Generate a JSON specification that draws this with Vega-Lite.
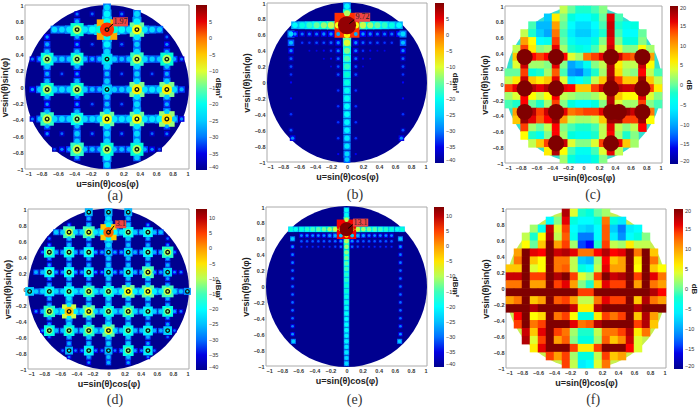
{"$schema":"https://vega.github.io/schema/vega-lite/v6.json","padding":0,"background":"white","bounds":"flush","columns":3,"spacing":0,
"resolve":{"scale":{"color":"independent","size":"independent"},"legend":{"color":"independent"}},
"config":{"view":{"stroke":null},"point":{"opacity":1},"axis":{"grid":false,"ticks":false,"domain":false,"labelFontSize":5.5,"labelFont":"Liberation Sans","labelFontWeight":"bold","labelColor":"#333","labelPadding":2,"labelOverlap":false,"titleFont":"Liberation Sans","titleFontSize":9,"titleFontWeight":"bold","titleColor":"#222","titlePadding":3,"format":".1~f"},"legend":{"padding":0,"gradientStrokeWidth":0,"labelFontSize":5.5,"labelFont":"Liberation Sans","labelColor":"#333","labelOverlap":false,"labelOffset":2,"titleFont":"Liberation Sans","titleFontSize":8,"titleFontWeight":"bold","titleOrient":"right","titleAngle":90,"titlePadding":-4,"titleColor":"#222","direction":"vertical"}},
"datasets":{
"a":[
{"u":-0.64,"v":0.7,"z":-24},{"u":-0.55,"v":0.7,"z":-24},{"u":-0.46,"v":0.7,"z":-23},{"u":-0.27,"v":0.7,"z":-23},{"u":-0.18,"v":0.7,"z":-21},{"u":-0.09,"v":0.7,"z":-18},{"u":0.09,"v":0.7,"z":-18},{"u":0.18,"v":0.7,"z":-21},{"u":0.27,"v":0.7,"z":-23},{"u":0.46,"v":0.7,"z":-23},{"u":0.55,"v":0.7,"z":-24},{"u":0.64,"v":0.7,"z":-25},
{"u":-0.91,"v":0.34,"z":-30},{"u":-0.82,"v":0.34,"z":-27},{"u":-0.64,"v":0.34,"z":-25},{"u":-0.55,"v":0.34,"z":-25},{"u":-0.46,"v":0.34,"z":-25},{"u":-0.27,"v":0.34,"z":-26},{"u":-0.18,"v":0.34,"z":-27},{"u":-0.09,"v":0.34,"z":-26},{"u":0.09,"v":0.34,"z":-25},{"u":0.18,"v":0.34,"z":-26},{"u":0.27,"v":0.34,"z":-25},{"u":0.46,"v":0.34,"z":-24},{"u":0.55,"v":0.34,"z":-25},{"u":0.64,"v":0.34,"z":-25},{"u":0.82,"v":0.34,"z":-27},{"u":0.91,"v":0.34,"z":-30},
{"u":-0.91,"v":-0.03,"z":-28},{"u":-0.82,"v":-0.03,"z":-25},{"u":-0.64,"v":-0.03,"z":-24},{"u":-0.55,"v":-0.03,"z":-24},{"u":-0.46,"v":-0.03,"z":-24},{"u":-0.27,"v":-0.03,"z":-25},{"u":-0.18,"v":-0.03,"z":-26},{"u":-0.09,"v":-0.03,"z":-26},{"u":0.09,"v":-0.03,"z":-25},{"u":0.18,"v":-0.03,"z":-25},{"u":0.27,"v":-0.03,"z":-24},{"u":0.46,"v":-0.03,"z":-23},{"u":0.55,"v":-0.03,"z":-23},{"u":0.64,"v":-0.03,"z":-23},{"u":0.82,"v":-0.03,"z":-24},{"u":0.91,"v":-0.03,"z":-27},
{"u":-0.91,"v":-0.39,"z":-30},{"u":-0.82,"v":-0.39,"z":-26},{"u":-0.64,"v":-0.39,"z":-24},{"u":-0.55,"v":-0.39,"z":-24},{"u":-0.46,"v":-0.39,"z":-24},{"u":-0.27,"v":-0.39,"z":-24},{"u":-0.18,"v":-0.39,"z":-24},{"u":-0.09,"v":-0.39,"z":-23},{"u":0.09,"v":-0.39,"z":-23},{"u":0.18,"v":-0.39,"z":-23},{"u":0.27,"v":-0.39,"z":-23},{"u":0.46,"v":-0.39,"z":-23},{"u":0.55,"v":-0.39,"z":-23},{"u":0.64,"v":-0.39,"z":-22},{"u":0.82,"v":-0.39,"z":-25},{"u":0.91,"v":-0.39,"z":-29},
{"u":-0.64,"v":-0.76,"z":-32},{"u":-0.55,"v":-0.76,"z":-29},{"u":-0.46,"v":-0.76,"z":-27},{"u":-0.27,"v":-0.76,"z":-26},{"u":-0.18,"v":-0.76,"z":-26},{"u":-0.09,"v":-0.76,"z":-26},{"u":0.09,"v":-0.76,"z":-26},{"u":0.18,"v":-0.76,"z":-26},{"u":0.27,"v":-0.76,"z":-26},{"u":0.46,"v":-0.76,"z":-27},{"u":0.55,"v":-0.76,"z":-29},{"u":0.64,"v":-0.76,"z":-32},
{"u":0,"v":0.97,"z":-24},{"u":0,"v":0.89,"z":-22},{"u":0,"v":0.8,"z":-20},{"u":0,"v":0.61,"z":-20},{"u":0,"v":0.52,"z":-22},{"u":0,"v":0.43,"z":-24},{"u":0,"v":0.25,"z":-24},{"u":0,"v":0.16,"z":-26},{"u":0,"v":0.07,"z":-25},{"u":0,"v":-0.12,"z":-25},{"u":0,"v":-0.21,"z":-26},{"u":0,"v":-0.3,"z":-24},{"u":0,"v":-0.48,"z":-23},{"u":0,"v":-0.57,"z":-24},{"u":0,"v":-0.66,"z":-24},{"u":0,"v":-0.86,"z":-22},{"u":0,"v":-0.95,"z":-24},
{"u":0.365,"v":0.89,"z":-24},{"u":0.365,"v":0.8,"z":-22},{"u":0.365,"v":0.61,"z":-23},{"u":0.365,"v":0.52,"z":-25},{"u":0.365,"v":0.43,"z":-24},{"u":0.365,"v":0.25,"z":-24},{"u":0.365,"v":0.16,"z":-25},{"u":0.365,"v":0.07,"z":-24},{"u":0.365,"v":-0.12,"z":-23},{"u":0.365,"v":-0.21,"z":-24},{"u":0.365,"v":-0.3,"z":-23},{"u":0.365,"v":-0.48,"z":-23},{"u":0.365,"v":-0.57,"z":-24},{"u":0.365,"v":-0.66,"z":-24},{"u":0.365,"v":-0.86,"z":-25},
{"u":-0.365,"v":0.89,"z":-30},{"u":-0.365,"v":0.8,"z":-27},{"u":-0.365,"v":0.61,"z":-27},{"u":-0.365,"v":0.52,"z":-28},{"u":-0.365,"v":0.43,"z":-26},{"u":-0.365,"v":0.25,"z":-26},{"u":-0.365,"v":0.16,"z":-28},{"u":-0.365,"v":0.07,"z":-26},{"u":-0.365,"v":-0.12,"z":-27},{"u":-0.365,"v":-0.21,"z":-28},{"u":-0.365,"v":-0.3,"z":-26},{"u":-0.365,"v":-0.48,"z":-26},{"u":-0.365,"v":-0.57,"z":-25},{"u":-0.365,"v":-0.66,"z":-25},{"u":-0.365,"v":-0.86,"z":-27},
{"u":-0.73,"v":0.61,"z":-28},{"u":-0.73,"v":0.52,"z":-27},{"u":-0.73,"v":0.43,"z":-26},{"u":-0.73,"v":0.25,"z":-25},{"u":-0.73,"v":0.16,"z":-27},{"u":-0.73,"v":0.07,"z":-26},{"u":-0.73,"v":-0.12,"z":-26},{"u":-0.73,"v":-0.21,"z":-28},{"u":-0.73,"v":-0.3,"z":-26},{"u":-0.73,"v":-0.48,"z":-27},{"u":-0.73,"v":-0.57,"z":-29},
{"u":0.73,"v":0.61,"z":-31},{"u":0.73,"v":0.52,"z":-29},{"u":0.73,"v":0.43,"z":-27},{"u":0.73,"v":0.25,"z":-26},{"u":0.73,"v":0.16,"z":-27},{"u":0.73,"v":0.07,"z":-25},{"u":0.73,"v":-0.12,"z":-25},{"u":0.73,"v":-0.21,"z":-27},{"u":0.73,"v":-0.3,"z":-25},{"u":0.73,"v":-0.48,"z":-27},{"u":0.73,"v":-0.57,"z":-30},
{"u":-0.18,"v":0.89,"z":-31},{"u":0.18,"v":0.89,"z":-30},{"u":-0.18,"v":0.52,"z":-32},{"u":0.18,"v":0.52,"z":-31},{"u":-0.55,"v":0.16,"z":-32},{"u":0.18,"v":0.16,"z":-32},{"u":0.55,"v":0.16,"z":-32},{"u":-0.18,"v":-0.21,"z":-32},{"u":0.18,"v":-0.21,"z":-32},{"u":-0.55,"v":-0.57,"z":-31},{"u":-0.18,"v":-0.57,"z":-31},{"u":0.18,"v":-0.57,"z":-31},{"u":0.55,"v":-0.57,"z":-31},
{"u":-0.365,"v":0.7,"z":-12,"n":1},{"u":0,"v":0.7,"z":3,"n":1},{"u":0.365,"v":0.7,"z":-9,"n":1},{"u":-0.73,"v":0.34,"z":-13,"n":1},{"u":-0.365,"v":0.34,"z":-13,"n":1},{"u":0,"v":0.34,"z":-18,"n":1},{"u":0.365,"v":0.34,"z":-11,"n":1},{"u":0.73,"v":0.34,"z":-12,"n":1},{"u":-0.73,"v":-0.03,"z":-12,"n":1},{"u":-0.365,"v":-0.03,"z":-12,"n":1},{"u":0,"v":-0.03,"z":-20,"n":1},{"u":0.365,"v":-0.03,"z":-8,"n":1},{"u":0.73,"v":-0.03,"z":-8,"n":1},{"u":-0.73,"v":-0.39,"z":-11,"n":1},{"u":-0.365,"v":-0.39,"z":-14,"n":1},{"u":0,"v":-0.39,"z":-9,"n":1},{"u":0.365,"v":-0.39,"z":-9,"n":1},{"u":0.73,"v":-0.39,"z":-7,"n":1},{"u":-0.365,"v":-0.76,"z":-11,"n":1},{"u":0,"v":-0.76,"z":-12,"n":1},{"u":0.365,"v":-0.76,"z":-12,"n":1}
],
"b":[
{"u":0,"v":0.96,"z":-22},{"u":0,"v":0.87,"z":-12},{"u":0,"v":0.6,"z":-8},{"u":0,"v":0.5,"z":-10},{"u":0,"v":0.4,"z":-14},{"u":0,"v":0.3,"z":-16},{"u":0,"v":0.2,"z":-17},{"u":0,"v":0.1,"z":-18},{"u":0,"v":0,"z":-19},{"u":0,"v":-0.1,"z":-20},{"u":0,"v":-0.2,"z":-20},{"u":0,"v":-0.3,"z":-21},{"u":0,"v":-0.4,"z":-21},{"u":0,"v":-0.5,"z":-22},{"u":0,"v":-0.6,"z":-22},{"u":0,"v":-0.7,"z":-23},{"u":0,"v":-0.8,"z":-23},{"u":0,"v":-0.9,"z":-24},{"u":0,"v":-0.97,"z":-25},
{"u":-0.65,"v":0.72,"z":-21},{"u":-0.56,"v":0.72,"z":-19},{"u":-0.47,"v":0.72,"z":-17},{"u":-0.38,"v":0.72,"z":-15},{"u":-0.29,"v":0.72,"z":-13},{"u":-0.2,"v":0.72,"z":-11},{"u":-0.11,"v":0.72,"z":-9},{"u":0.11,"v":0.72,"z":-9},{"u":0.2,"v":0.72,"z":-11},{"u":0.29,"v":0.72,"z":-13},{"u":0.38,"v":0.72,"z":-15},{"u":0.47,"v":0.72,"z":-17},{"u":0.56,"v":0.72,"z":-19},{"u":0.65,"v":0.72,"z":-21},
{"u":-0.7,"v":0.61,"z":-24},{"u":-0.65,"v":0.61,"z":-28},{"u":-0.56,"v":0.61,"z":-30},{"u":-0.47,"v":0.61,"z":-30},{"u":-0.38,"v":0.61,"z":-30},{"u":-0.29,"v":0.61,"z":-29},{"u":-0.2,"v":0.61,"z":-28},{"u":-0.11,"v":0.61,"z":-27},{"u":0.11,"v":0.61,"z":-27},{"u":0.2,"v":0.61,"z":-28},{"u":0.29,"v":0.61,"z":-29},{"u":0.38,"v":0.61,"z":-30},{"u":0.47,"v":0.61,"z":-30},{"u":0.56,"v":0.61,"z":-30},{"u":0.65,"v":0.61,"z":-28},{"u":0.7,"v":0.61,"z":-24},
{"u":-0.7,"v":0.5,"z":-26},{"u":-0.56,"v":0.5,"z":-33},{"u":-0.47,"v":0.5,"z":-33},{"u":-0.38,"v":0.5,"z":-32},{"u":-0.29,"v":0.5,"z":-32},{"u":-0.2,"v":0.5,"z":-31},{"u":-0.11,"v":0.5,"z":-29},{"u":0.11,"v":0.5,"z":-29},{"u":0.2,"v":0.5,"z":-31},{"u":0.29,"v":0.5,"z":-32},{"u":0.38,"v":0.5,"z":-32},{"u":0.47,"v":0.5,"z":-33},{"u":0.56,"v":0.5,"z":-33},{"u":0.7,"v":0.5,"z":-26},
{"u":-0.7,"v":0.4,"z":-29},{"u":-0.47,"v":0.4,"z":-35},{"u":-0.38,"v":0.4,"z":-35},{"u":-0.29,"v":0.4,"z":-34},{"u":-0.2,"v":0.4,"z":-33},{"u":-0.11,"v":0.4,"z":-30},{"u":0.11,"v":0.4,"z":-30},{"u":0.2,"v":0.4,"z":-33},{"u":0.29,"v":0.4,"z":-34},{"u":0.38,"v":0.4,"z":-35},{"u":0.47,"v":0.4,"z":-35},{"u":0.7,"v":0.4,"z":-29},
{"u":-0.7,"v":0.3,"z":-31},{"u":-0.29,"v":0.3,"z":-35},{"u":-0.2,"v":0.3,"z":-34},{"u":-0.11,"v":0.3,"z":-31},{"u":0.11,"v":0.3,"z":-31},{"u":0.2,"v":0.3,"z":-34},{"u":0.29,"v":0.3,"z":-35},{"u":0.7,"v":0.3,"z":-31},
{"u":-0.7,"v":0.2,"z":-32},{"u":-0.2,"v":0.2,"z":-35},{"u":-0.11,"v":0.2,"z":-32},{"u":0.11,"v":0.2,"z":-32},{"u":0.2,"v":0.2,"z":-35},{"u":0.7,"v":0.2,"z":-32},
{"u":-0.7,"v":0.1,"z":-33},{"u":0.7,"v":0.1,"z":-33},{"u":-0.7,"v":0,"z":-34},{"u":0.7,"v":0,"z":-34},{"u":-0.7,"v":-0.2,"z":-34},{"u":0.7,"v":-0.2,"z":-34},{"u":-0.7,"v":-0.4,"z":-33},{"u":0.7,"v":-0.4,"z":-33},{"u":-0.7,"v":-0.6,"z":-32},{"u":0.7,"v":-0.6,"z":-32},{"u":-0.68,"v":-0.7,"z":-29},{"u":0.68,"v":-0.7,"z":-29},
{"u":-0.11,"v":0.1,"z":-32},{"u":0.11,"v":0.1,"z":-32},{"u":-0.11,"v":-0.1,"z":-33},{"u":0.11,"v":-0.1,"z":-33},{"u":-0.11,"v":-0.3,"z":-33},{"u":0.11,"v":-0.3,"z":-33},{"u":-0.11,"v":-0.5,"z":-33},{"u":0.11,"v":-0.5,"z":-33},{"u":-0.11,"v":-0.7,"z":-33},{"u":0.11,"v":-0.7,"z":-33},{"u":-0.11,"v":-0.9,"z":-34},{"u":0.11,"v":-0.9,"z":-34},
{"u":0,"v":0.72,"z":9}
],
"c":[
{"u":-0.25,"v":0.95,"z":3},{"u":-0.15,"v":0.95,"z":0},{"u":-0.05,"v":0.95,"z":-2},{"u":0.05,"v":0.95,"z":-2},{"u":0.15,"v":0.95,"z":-1},{"u":0.25,"v":0.95,"z":1},
{"u":-0.45,"v":0.85,"z":-8},{"u":-0.35,"v":0.85,"z":6},{"u":-0.25,"v":0.85,"z":1},{"u":-0.15,"v":0.85,"z":-3},{"u":-0.05,"v":0.85,"z":-5},{"u":0.05,"v":0.85,"z":-5},{"u":0.15,"v":0.85,"z":-3},{"u":0.25,"v":0.85,"z":0},{"u":0.35,"v":0.85,"z":16},{"u":0.45,"v":0.85,"z":-1},
{"u":-0.65,"v":0.75,"z":-1},{"u":-0.55,"v":0.75,"z":-9},{"u":-0.45,"v":0.75,"z":-9},{"u":-0.35,"v":0.75,"z":10},{"u":-0.25,"v":0.75,"z":0},{"u":-0.15,"v":0.75,"z":-5},{"u":-0.05,"v":0.75,"z":-7},{"u":0.05,"v":0.75,"z":-7},{"u":0.15,"v":0.75,"z":-5},{"u":0.25,"v":0.75,"z":-1},{"u":0.35,"v":0.75,"z":17},{"u":0.45,"v":0.75,"z":-2},{"u":0.55,"v":0.75,"z":-4},{"u":0.65,"v":0.75,"z":-3},
{"u":-0.75,"v":0.65,"z":3},{"u":-0.65,"v":0.65,"z":-2},{"u":-0.55,"v":0.65,"z":-8},{"u":-0.45,"v":0.65,"z":-10},{"u":-0.35,"v":0.65,"z":12},{"u":-0.25,"v":0.65,"z":-1},{"u":-0.15,"v":0.65,"z":-6},{"u":-0.05,"v":0.65,"z":-8},{"u":0.05,"v":0.65,"z":-8},{"u":0.15,"v":0.65,"z":-6},{"u":0.25,"v":0.65,"z":-2},{"u":0.35,"v":0.65,"z":17},{"u":0.45,"v":0.65,"z":-1},{"u":0.55,"v":0.65,"z":-5},{"u":0.65,"v":0.65,"z":-5},{"u":0.75,"v":0.65,"z":0},
{"u":-0.75,"v":0.55,"z":10},{"u":-0.65,"v":0.55,"z":5},{"u":-0.55,"v":0.55,"z":-5},{"u":-0.45,"v":0.55,"z":-4},{"u":-0.35,"v":0.55,"z":14},{"u":-0.25,"v":0.55,"z":0},{"u":-0.15,"v":0.55,"z":-4},{"u":-0.05,"v":0.55,"z":-6},{"u":0.05,"v":0.55,"z":-6},{"u":0.15,"v":0.55,"z":-3},{"u":0.25,"v":0.55,"z":1},{"u":0.35,"v":0.55,"z":16},{"u":0.45,"v":0.55,"z":1},{"u":0.55,"v":0.55,"z":-3},{"u":0.65,"v":0.55,"z":-3},{"u":0.75,"v":0.55,"z":1},
{"u":-0.85,"v":0.45,"z":3},{"u":-0.75,"v":0.45,"z":14},{"u":-0.65,"v":0.45,"z":6},{"u":-0.55,"v":0.45,"z":1},{"u":-0.45,"v":0.45,"z":2},{"u":-0.35,"v":0.45,"z":16},{"u":-0.25,"v":0.45,"z":2},{"u":-0.15,"v":0.45,"z":-2},{"u":-0.05,"v":0.45,"z":-3},{"u":0.05,"v":0.45,"z":-4},{"u":0.15,"v":0.45,"z":-1},{"u":0.25,"v":0.45,"z":3},{"u":0.35,"v":0.45,"z":17},{"u":0.45,"v":0.45,"z":4},{"u":0.55,"v":0.45,"z":1},{"u":0.65,"v":0.45,"z":1},{"u":0.75,"v":0.45,"z":5},{"u":0.85,"v":0.45,"z":2},
{"u":-0.85,"v":0.35,"z":8},{"u":-0.75,"v":0.35,"z":20},{"u":-0.65,"v":0.35,"z":15},{"u":-0.55,"v":0.35,"z":14},{"u":-0.45,"v":0.35,"z":15},{"u":-0.35,"v":0.35,"z":20},{"u":-0.25,"v":0.35,"z":15},{"u":-0.15,"v":0.35,"z":4},{"u":-0.05,"v":0.35,"z":2},{"u":0.05,"v":0.35,"z":12},{"u":0.15,"v":0.35,"z":14},{"u":0.25,"v":0.35,"z":16},{"u":0.35,"v":0.35,"z":20},{"u":0.45,"v":0.35,"z":17},{"u":0.55,"v":0.35,"z":14},{"u":0.65,"v":0.35,"z":13},{"u":0.75,"v":0.35,"z":20},{"u":0.85,"v":0.35,"z":10},
{"u":-0.85,"v":0.25,"z":4},{"u":-0.75,"v":0.25,"z":17},{"u":-0.65,"v":0.25,"z":2},{"u":-0.55,"v":0.25,"z":2},{"u":-0.45,"v":0.25,"z":1},{"u":-0.35,"v":0.25,"z":16},{"u":-0.25,"v":0.25,"z":1},{"u":-0.15,"v":0.25,"z":-10},{"u":-0.05,"v":0.25,"z":-8},{"u":0.05,"v":0.25,"z":-4},{"u":0.15,"v":0.25,"z":1},{"u":0.25,"v":0.25,"z":3},{"u":0.35,"v":0.25,"z":18},{"u":0.45,"v":0.25,"z":6},{"u":0.55,"v":0.25,"z":3},{"u":0.65,"v":0.25,"z":3},{"u":0.75,"v":0.25,"z":17},{"u":0.85,"v":0.25,"z":5},
{"u":-0.95,"v":0.15,"z":0},{"u":-0.85,"v":0.15,"z":0},{"u":-0.75,"v":0.15,"z":14},{"u":-0.65,"v":0.15,"z":-3},{"u":-0.55,"v":0.15,"z":-2},{"u":-0.45,"v":0.15,"z":2},{"u":-0.35,"v":0.15,"z":13},{"u":-0.25,"v":0.15,"z":-1},{"u":-0.15,"v":0.15,"z":-11},{"u":-0.05,"v":0.15,"z":-12},{"u":0.05,"v":0.15,"z":-8},{"u":0.15,"v":0.15,"z":-2},{"u":0.25,"v":0.15,"z":2},{"u":0.35,"v":0.15,"z":18},{"u":0.45,"v":0.15,"z":7},{"u":0.55,"v":0.15,"z":2},{"u":0.65,"v":0.15,"z":1},{"u":0.75,"v":0.15,"z":15},{"u":0.85,"v":0.15,"z":3},{"u":0.95,"v":0.15,"z":-1},
{"u":-0.95,"v":0.05,"z":3},{"u":-0.85,"v":0.05,"z":6},{"u":-0.75,"v":0.05,"z":17},{"u":-0.65,"v":0.05,"z":8},{"u":-0.55,"v":0.05,"z":6},{"u":-0.45,"v":0.05,"z":8},{"u":-0.35,"v":0.05,"z":16},{"u":-0.25,"v":0.05,"z":4},{"u":-0.15,"v":0.05,"z":-6},{"u":-0.05,"v":0.05,"z":-5},{"u":0.05,"v":0.05,"z":-2},{"u":0.15,"v":0.05,"z":3},{"u":0.25,"v":0.05,"z":8},{"u":0.35,"v":0.05,"z":19},{"u":0.45,"v":0.05,"z":14},{"u":0.55,"v":0.05,"z":8},{"u":0.65,"v":0.05,"z":8},{"u":0.75,"v":0.05,"z":19},{"u":0.85,"v":0.05,"z":8},{"u":0.95,"v":0.05,"z":3},
{"u":-0.95,"v":-0.05,"z":14},{"u":-0.85,"v":-0.05,"z":16},{"u":-0.75,"v":-0.05,"z":20},{"u":-0.65,"v":-0.05,"z":18},{"u":-0.55,"v":-0.05,"z":16},{"u":-0.45,"v":-0.05,"z":18},{"u":-0.35,"v":-0.05,"z":20},{"u":-0.25,"v":-0.05,"z":16},{"u":-0.15,"v":-0.05,"z":15},{"u":-0.05,"v":-0.05,"z":8},{"u":0.05,"v":-0.05,"z":8},{"u":0.15,"v":-0.05,"z":14},{"u":0.25,"v":-0.05,"z":17},{"u":0.35,"v":-0.05,"z":20},{"u":0.45,"v":-0.05,"z":18},{"u":0.55,"v":-0.05,"z":17},{"u":0.65,"v":-0.05,"z":17},{"u":0.75,"v":-0.05,"z":20},{"u":0.85,"v":-0.05,"z":14},{"u":0.95,"v":-0.05,"z":6},
{"u":-0.95,"v":-0.15,"z":2},{"u":-0.85,"v":-0.15,"z":4},{"u":-0.75,"v":-0.15,"z":15},{"u":-0.65,"v":-0.15,"z":5},{"u":-0.55,"v":-0.15,"z":3},{"u":-0.45,"v":-0.15,"z":5},{"u":-0.35,"v":-0.15,"z":15},{"u":-0.25,"v":-0.15,"z":3},{"u":-0.15,"v":-0.15,"z":2},{"u":-0.05,"v":-0.15,"z":1},{"u":0.05,"v":-0.15,"z":1},{"u":0.15,"v":-0.15,"z":2},{"u":0.25,"v":-0.15,"z":4},{"u":0.35,"v":-0.15,"z":18},{"u":0.45,"v":-0.15,"z":8},{"u":0.55,"v":-0.15,"z":5},{"u":0.65,"v":-0.15,"z":5},{"u":0.75,"v":-0.15,"z":16},{"u":0.85,"v":-0.15,"z":4},{"u":0.95,"v":-0.15,"z":1},
{"u":-0.95,"v":-0.25,"z":-1},{"u":-0.85,"v":-0.25,"z":-2},{"u":-0.75,"v":-0.25,"z":15},{"u":-0.65,"v":-0.25,"z":0},{"u":-0.55,"v":-0.25,"z":-2},{"u":-0.45,"v":-0.25,"z":2},{"u":-0.35,"v":-0.25,"z":14},{"u":-0.25,"v":-0.25,"z":1},{"u":-0.15,"v":-0.25,"z":-3},{"u":-0.05,"v":-0.25,"z":-5},{"u":0.05,"v":-0.25,"z":-5},{"u":0.15,"v":-0.25,"z":-3},{"u":0.25,"v":-0.25,"z":1},{"u":0.35,"v":-0.25,"z":18},{"u":0.45,"v":-0.25,"z":4},{"u":0.55,"v":-0.25,"z":2},{"u":0.65,"v":-0.25,"z":2},{"u":0.75,"v":-0.25,"z":14},{"u":0.85,"v":-0.25,"z":1},{"u":0.95,"v":-0.25,"z":-1},
{"u":-0.85,"v":-0.35,"z":10},{"u":-0.75,"v":-0.35,"z":20},{"u":-0.65,"v":-0.35,"z":18},{"u":-0.55,"v":-0.35,"z":14},{"u":-0.45,"v":-0.35,"z":17},{"u":-0.35,"v":-0.35,"z":20},{"u":-0.25,"v":-0.35,"z":16},{"u":-0.15,"v":-0.35,"z":12},{"u":-0.05,"v":-0.35,"z":13},{"u":0.05,"v":-0.35,"z":14},{"u":0.15,"v":-0.35,"z":14},{"u":0.25,"v":-0.35,"z":16},{"u":0.35,"v":-0.35,"z":20},{"u":0.45,"v":-0.35,"z":20},{"u":0.55,"v":-0.35,"z":19},{"u":0.65,"v":-0.35,"z":17},{"u":0.75,"v":-0.35,"z":20},{"u":0.85,"v":-0.35,"z":12},
{"u":-0.85,"v":-0.45,"z":8},{"u":-0.75,"v":-0.45,"z":19},{"u":-0.65,"v":-0.45,"z":16},{"u":-0.55,"v":-0.45,"z":13},{"u":-0.45,"v":-0.45,"z":15},{"u":-0.35,"v":-0.45,"z":19},{"u":-0.25,"v":-0.45,"z":10},{"u":-0.15,"v":-0.45,"z":3},{"u":-0.05,"v":-0.45,"z":2},{"u":0.05,"v":-0.45,"z":2},{"u":0.15,"v":-0.45,"z":3},{"u":0.25,"v":-0.45,"z":8},{"u":0.35,"v":-0.45,"z":19},{"u":0.45,"v":-0.45,"z":19},{"u":0.55,"v":-0.45,"z":14},{"u":0.65,"v":-0.45,"z":14},{"u":0.75,"v":-0.45,"z":19},{"u":0.85,"v":-0.45,"z":5},
{"u":-0.75,"v":-0.55,"z":14},{"u":-0.65,"v":-0.55,"z":2},{"u":-0.55,"v":-0.55,"z":0},{"u":-0.45,"v":-0.55,"z":3},{"u":-0.35,"v":-0.55,"z":15},{"u":-0.25,"v":-0.55,"z":1},{"u":-0.15,"v":-0.55,"z":-1},{"u":-0.05,"v":-0.55,"z":-2},{"u":0.05,"v":-0.55,"z":-2},{"u":0.15,"v":-0.55,"z":-1},{"u":0.25,"v":-0.55,"z":3},{"u":0.35,"v":-0.55,"z":16},{"u":0.45,"v":-0.55,"z":3},{"u":0.55,"v":-0.55,"z":1},{"u":0.65,"v":-0.55,"z":3},{"u":0.75,"v":-0.55,"z":15},
{"u":-0.75,"v":-0.65,"z":5},{"u":-0.65,"v":-0.65,"z":-2},{"u":-0.55,"v":-0.65,"z":-4},{"u":-0.45,"v":-0.65,"z":1},{"u":-0.35,"v":-0.65,"z":15},{"u":-0.25,"v":-0.65,"z":2},{"u":-0.15,"v":-0.65,"z":-3},{"u":-0.05,"v":-0.65,"z":-4},{"u":0.05,"v":-0.65,"z":-4},{"u":0.15,"v":-0.65,"z":-2},{"u":0.25,"v":-0.65,"z":3},{"u":0.35,"v":-0.65,"z":15},{"u":0.45,"v":-0.65,"z":2},{"u":0.55,"v":-0.65,"z":-2},{"u":0.65,"v":-0.65,"z":1},
{"u":-0.65,"v":-0.75,"z":3},{"u":-0.55,"v":-0.75,"z":8},{"u":-0.45,"v":-0.75,"z":14},{"u":-0.35,"v":-0.75,"z":20},{"u":-0.25,"v":-0.75,"z":17},{"u":-0.15,"v":-0.75,"z":4},{"u":-0.05,"v":-0.75,"z":1},{"u":0.05,"v":-0.75,"z":1},{"u":0.15,"v":-0.75,"z":4},{"u":0.25,"v":-0.75,"z":14},{"u":0.35,"v":-0.75,"z":20},{"u":0.45,"v":-0.75,"z":16},{"u":0.55,"v":-0.75,"z":8},{"u":0.65,"v":-0.75,"z":2},
{"u":-0.45,"v":-0.85,"z":6},{"u":-0.35,"v":-0.85,"z":18},{"u":-0.25,"v":-0.85,"z":5},{"u":-0.15,"v":-0.85,"z":-1},{"u":-0.05,"v":-0.85,"z":-4},{"u":0.05,"v":-0.85,"z":-4},{"u":0.15,"v":-0.85,"z":-1},{"u":0.25,"v":-0.85,"z":4},{"u":0.35,"v":-0.85,"z":16},{"u":0.45,"v":-0.85,"z":3},
{"u":-0.25,"v":-0.95,"z":2},{"u":-0.15,"v":-0.95,"z":-3},{"u":-0.05,"v":-0.95,"z":-6},{"u":0.05,"v":-0.95,"z":-6},{"u":0.15,"v":-0.95,"z":-3},{"u":0.25,"v":-0.95,"z":1}
],
"d":[
{"u":-0.65,"v":0.71,"z":-24},{"u":-0.57,"v":0.71,"z":-24},{"u":-0.41,"v":0.71,"z":-23},{"u":-0.33,"v":0.71,"z":-23},{"u":-0.16,"v":0.71,"z":-22},{"u":-0.08,"v":0.71,"z":-20},{"u":0.08,"v":0.71,"z":-20},{"u":0.16,"v":0.71,"z":-22},{"u":0.33,"v":0.71,"z":-24},{"u":0.41,"v":0.71,"z":-24},{"u":0.57,"v":0.71,"z":-25},{"u":0.65,"v":0.71,"z":-25},
{"u":-0.82,"v":0.46,"z":-29},{"u":-0.65,"v":0.46,"z":-26},{"u":-0.57,"v":0.46,"z":-26},{"u":-0.41,"v":0.46,"z":-26},{"u":-0.33,"v":0.46,"z":-26},{"u":-0.16,"v":0.46,"z":-27},{"u":-0.08,"v":0.46,"z":-27},{"u":0.08,"v":0.46,"z":-27},{"u":0.16,"v":0.46,"z":-27},{"u":0.33,"v":0.46,"z":-26},{"u":0.41,"v":0.46,"z":-26},{"u":0.57,"v":0.46,"z":-26},{"u":0.65,"v":0.46,"z":-26},{"u":0.82,"v":0.46,"z":-29},
{"u":-0.9,"v":0.21,"z":-26},{"u":-0.82,"v":0.21,"z":-25},{"u":-0.65,"v":0.21,"z":-27},{"u":-0.57,"v":0.21,"z":-27},{"u":-0.41,"v":0.21,"z":-27},{"u":-0.33,"v":0.21,"z":-27},{"u":-0.16,"v":0.21,"z":-28},{"u":-0.08,"v":0.21,"z":-28},{"u":0.08,"v":0.21,"z":-27},{"u":0.16,"v":0.21,"z":-27},{"u":0.33,"v":0.21,"z":-26},{"u":0.41,"v":0.21,"z":-26},{"u":0.57,"v":0.21,"z":-27},{"u":0.65,"v":0.21,"z":-27},{"u":0.82,"v":0.21,"z":-28},{"u":0.9,"v":0.21,"z":-29},
{"u":-0.9,"v":-0.03,"z":-24},{"u":-0.82,"v":-0.03,"z":-23},{"u":-0.65,"v":-0.03,"z":-23},{"u":-0.57,"v":-0.03,"z":-23},{"u":-0.41,"v":-0.03,"z":-22},{"u":-0.33,"v":-0.03,"z":-22},{"u":-0.16,"v":-0.03,"z":-22},{"u":-0.08,"v":-0.03,"z":-23},{"u":0.08,"v":-0.03,"z":-22},{"u":0.16,"v":-0.03,"z":-21},{"u":0.33,"v":-0.03,"z":-21},{"u":0.41,"v":-0.03,"z":-21},{"u":0.57,"v":-0.03,"z":-21},{"u":0.65,"v":-0.03,"z":-22},{"u":0.82,"v":-0.03,"z":-23},{"u":0.9,"v":-0.03,"z":-25},
{"u":-0.9,"v":-0.28,"z":-28},{"u":-0.82,"v":-0.28,"z":-26},{"u":-0.65,"v":-0.28,"z":-22},{"u":-0.57,"v":-0.28,"z":-21},{"u":-0.41,"v":-0.28,"z":-21},{"u":-0.33,"v":-0.28,"z":-22},{"u":-0.16,"v":-0.28,"z":-23},{"u":-0.08,"v":-0.28,"z":-23},{"u":0.08,"v":-0.28,"z":-23},{"u":0.16,"v":-0.28,"z":-23},{"u":0.33,"v":-0.28,"z":-23},{"u":0.41,"v":-0.28,"z":-24},{"u":0.57,"v":-0.28,"z":-24},{"u":0.65,"v":-0.28,"z":-24},{"u":0.82,"v":-0.28,"z":-27},{"u":0.9,"v":-0.28,"z":-29},
{"u":-0.82,"v":-0.52,"z":-28},{"u":-0.65,"v":-0.52,"z":-25},{"u":-0.57,"v":-0.52,"z":-25},{"u":-0.41,"v":-0.52,"z":-24},{"u":-0.33,"v":-0.52,"z":-24},{"u":-0.16,"v":-0.52,"z":-23},{"u":-0.08,"v":-0.52,"z":-23},{"u":0.08,"v":-0.52,"z":-23},{"u":0.16,"v":-0.52,"z":-24},{"u":0.33,"v":-0.52,"z":-25},{"u":0.41,"v":-0.52,"z":-25},{"u":0.57,"v":-0.52,"z":-26},{"u":0.65,"v":-0.52,"z":-26},{"u":0.82,"v":-0.52,"z":-30},
{"u":-0.57,"v":-0.77,"z":-30},{"u":-0.41,"v":-0.77,"z":-29},{"u":-0.33,"v":-0.77,"z":-28},{"u":-0.16,"v":-0.77,"z":-28},{"u":-0.08,"v":-0.77,"z":-29},{"u":0.08,"v":-0.77,"z":-29},{"u":0.16,"v":-0.77,"z":-27},{"u":0.33,"v":-0.77,"z":-27},{"u":0.41,"v":-0.77,"z":-28},{"u":0.57,"v":-0.77,"z":-30},
{"u":0,"v":0.88,"z":-22},{"u":0,"v":0.8,"z":-19},{"u":0,"v":0.63,"z":-19},{"u":0,"v":0.55,"z":-22},{"u":0,"v":0.38,"z":-24},{"u":0,"v":0.3,"z":-24},{"u":0,"v":0.13,"z":-24},{"u":0,"v":0.05,"z":-24},{"u":0,"v":-0.12,"z":-23},{"u":0,"v":-0.2,"z":-23},{"u":0,"v":-0.36,"z":-23},{"u":0,"v":-0.44,"z":-22},{"u":0,"v":-0.6,"z":-23},{"u":0,"v":-0.68,"z":-24},{"u":0,"v":-0.85,"z":-25},{"u":0,"v":-0.92,"z":-26},
{"u":0.245,"v":0.88,"z":-25},{"u":0.245,"v":0.8,"z":-24},{"u":0.245,"v":0.63,"z":-24},{"u":0.245,"v":0.55,"z":-25},{"u":0.245,"v":0.38,"z":-25},{"u":0.245,"v":0.3,"z":-25},{"u":0.245,"v":0.13,"z":-25},{"u":0.245,"v":0.05,"z":-24},{"u":0.245,"v":-0.12,"z":-24},{"u":0.245,"v":-0.2,"z":-24},{"u":0.245,"v":-0.36,"z":-24},{"u":0.245,"v":-0.44,"z":-24},{"u":0.245,"v":-0.6,"z":-24},{"u":0.245,"v":-0.68,"z":-24},{"u":0.245,"v":-0.85,"z":-25},{"u":0.245,"v":-0.92,"z":-27},
{"u":-0.245,"v":0.88,"z":-26},{"u":-0.245,"v":0.8,"z":-25},{"u":-0.245,"v":0.63,"z":-25},{"u":-0.245,"v":0.55,"z":-26},{"u":-0.245,"v":0.38,"z":-26},{"u":-0.245,"v":0.3,"z":-26},{"u":-0.245,"v":0.13,"z":-26},{"u":-0.245,"v":0.05,"z":-25},{"u":-0.245,"v":-0.12,"z":-24},{"u":-0.245,"v":-0.2,"z":-24},{"u":-0.245,"v":-0.36,"z":-24},{"u":-0.245,"v":-0.44,"z":-24},{"u":-0.245,"v":-0.6,"z":-24},{"u":-0.245,"v":-0.68,"z":-25},{"u":-0.245,"v":-0.85,"z":-26},{"u":-0.245,"v":-0.92,"z":-28},
{"u":0.49,"v":0.8,"z":-28},{"u":0.49,"v":0.63,"z":-26},{"u":0.49,"v":0.55,"z":-26},{"u":0.49,"v":0.38,"z":-25},{"u":0.49,"v":0.3,"z":-25},{"u":0.49,"v":0.13,"z":-24},{"u":0.49,"v":0.05,"z":-24},{"u":0.49,"v":-0.12,"z":-24},{"u":0.49,"v":-0.2,"z":-25},{"u":0.49,"v":-0.36,"z":-26},{"u":0.49,"v":-0.44,"z":-26},{"u":0.49,"v":-0.6,"z":-26},{"u":0.49,"v":-0.68,"z":-27},{"u":0.49,"v":-0.85,"z":-29},
{"u":-0.49,"v":0.8,"z":-28},{"u":-0.49,"v":0.63,"z":-25},{"u":-0.49,"v":0.55,"z":-25},{"u":-0.49,"v":0.38,"z":-25},{"u":-0.49,"v":0.3,"z":-25},{"u":-0.49,"v":0.13,"z":-25},{"u":-0.49,"v":0.05,"z":-24},{"u":-0.49,"v":-0.12,"z":-22},{"u":-0.49,"v":-0.2,"z":-22},{"u":-0.49,"v":-0.36,"z":-22},{"u":-0.49,"v":-0.44,"z":-23},{"u":-0.49,"v":-0.6,"z":-25},{"u":-0.49,"v":-0.68,"z":-26},{"u":-0.49,"v":-0.85,"z":-29},
{"u":0.735,"v":0.63,"z":-30},{"u":0.735,"v":0.55,"z":-28},{"u":0.735,"v":0.38,"z":-26},{"u":0.735,"v":0.3,"z":-26},{"u":0.735,"v":0.13,"z":-27},{"u":0.735,"v":0.05,"z":-26},{"u":0.735,"v":-0.12,"z":-26},{"u":0.735,"v":-0.2,"z":-26},{"u":0.735,"v":-0.36,"z":-27},{"u":0.735,"v":-0.44,"z":-27},{"u":0.735,"v":-0.6,"z":-30},
{"u":-0.735,"v":0.63,"z":-30},{"u":-0.735,"v":0.55,"z":-28},{"u":-0.735,"v":0.38,"z":-27},{"u":-0.735,"v":0.3,"z":-27},{"u":-0.735,"v":0.13,"z":-27},{"u":-0.735,"v":0.05,"z":-26},{"u":-0.735,"v":-0.12,"z":-26},{"u":-0.735,"v":-0.2,"z":-26},{"u":-0.735,"v":-0.36,"z":-26},{"u":-0.735,"v":-0.44,"z":-27},{"u":-0.735,"v":-0.6,"z":-30},
{"u":-0.245,"v":0.96,"z":-20,"n":1},{"u":0,"v":0.96,"z":-20,"n":1},{"u":0.245,"v":0.96,"z":-20,"n":1},{"u":-0.49,"v":0.71,"z":-9,"n":1},{"u":-0.245,"v":0.71,"z":-9,"n":1},{"u":0,"v":0.71,"z":3,"n":1},{"u":0.245,"v":0.71,"z":-13,"n":1},{"u":0.49,"v":0.71,"z":-15,"n":1},
{"u":-0.735,"v":0.46,"z":-12,"n":1},{"u":-0.49,"v":0.46,"z":-13,"n":1},{"u":-0.245,"v":0.46,"z":-14,"n":1},{"u":0,"v":0.46,"z":-20,"n":1},{"u":0.245,"v":0.46,"z":-18,"n":1},{"u":0.49,"v":0.46,"z":-15,"n":1},{"u":0.735,"v":0.46,"z":-10,"n":1},
{"u":-0.735,"v":0.21,"z":-14,"n":1},{"u":-0.49,"v":0.21,"z":-14,"n":1},{"u":-0.245,"v":0.21,"z":-15,"n":1},{"u":0,"v":0.21,"z":-18,"n":1},{"u":0.245,"v":0.21,"z":-16,"n":1},{"u":0.49,"v":0.21,"z":-9,"n":1},{"u":0.735,"v":0.21,"z":-18,"n":1},
{"u":-0.98,"v":-0.03,"z":-18,"n":1},{"u":-0.735,"v":-0.03,"z":-15,"n":1},{"u":-0.49,"v":-0.03,"z":-14,"n":1},{"u":-0.245,"v":-0.03,"z":-10,"n":1},{"u":0,"v":-0.03,"z":-12,"n":1},{"u":0.245,"v":-0.03,"z":-7,"n":1},{"u":0.49,"v":-0.03,"z":-8,"n":1},{"u":0.735,"v":-0.03,"z":-9,"n":1},{"u":0.98,"v":-0.03,"z":-22,"n":1},
{"u":-0.735,"v":-0.28,"z":-10,"n":1},{"u":-0.49,"v":-0.28,"z":-3,"n":1},{"u":-0.245,"v":-0.28,"z":-8,"n":1},{"u":0,"v":-0.28,"z":-12,"n":1},{"u":0.245,"v":-0.28,"z":-10,"n":1},{"u":0.49,"v":-0.28,"z":-15,"n":1},{"u":0.735,"v":-0.28,"z":-12,"n":1},
{"u":-0.735,"v":-0.52,"z":-12,"n":1},{"u":-0.49,"v":-0.52,"z":-12,"n":1},{"u":-0.245,"v":-0.52,"z":-10,"n":1},{"u":0,"v":-0.52,"z":-8,"n":1},{"u":0.245,"v":-0.52,"z":-13,"n":1},{"u":0.49,"v":-0.52,"z":-15,"n":1},{"u":0.735,"v":-0.52,"z":-18,"n":1},
{"u":-0.49,"v":-0.77,"z":-20,"n":1},{"u":-0.245,"v":-0.77,"z":-15,"n":1},{"u":0,"v":-0.77,"z":-20,"n":1},{"u":0.245,"v":-0.77,"z":-12,"n":1},{"u":0.49,"v":-0.77,"z":-16,"n":1}
],
"e":[
{"u":0,"v":0.96,"z":-19},{"u":0,"v":0.9,"z":-19},{"u":0,"v":0.84,"z":-10},{"u":0,"v":0.64,"z":-4},{"u":0,"v":0.57,"z":-10},{"u":0,"v":0.5,"z":-11},{"u":0,"v":0.43,"z":-12},{"u":0,"v":0.36,"z":-13},{"u":0,"v":0.29,"z":-14},{"u":0,"v":0.22,"z":-15},{"u":0,"v":0.15,"z":-16},{"u":0,"v":0.08,"z":-16},{"u":0,"v":0.01,"z":-17},{"u":0,"v":-0.06,"z":-17},{"u":0,"v":-0.13,"z":-18},{"u":0,"v":-0.2,"z":-18},{"u":0,"v":-0.27,"z":-19},{"u":0,"v":-0.34,"z":-19},{"u":0,"v":-0.41,"z":-20},{"u":0,"v":-0.48,"z":-20},{"u":0,"v":-0.55,"z":-20},{"u":0,"v":-0.62,"z":-21},{"u":0,"v":-0.69,"z":-21},{"u":0,"v":-0.76,"z":-22},{"u":0,"v":-0.83,"z":-22},{"u":0,"v":-0.9,"z":-23},{"u":0,"v":-0.97,"z":-23},
{"u":-0.69,"v":0.72,"z":-17},{"u":-0.63,"v":0.72,"z":-19},{"u":-0.56,"v":0.72,"z":-17},{"u":-0.49,"v":0.72,"z":-16},{"u":-0.42,"v":0.72,"z":-15},{"u":-0.35,"v":0.72,"z":-14},{"u":-0.28,"v":0.72,"z":-13},{"u":-0.21,"v":0.72,"z":-11},{"u":-0.14,"v":0.72,"z":-9},{"u":-0.07,"v":0.72,"z":-5},{"u":0.07,"v":0.72,"z":-5},{"u":0.14,"v":0.72,"z":-9},{"u":0.21,"v":0.72,"z":-11},{"u":0.28,"v":0.72,"z":-13},{"u":0.35,"v":0.72,"z":-14},{"u":0.42,"v":0.72,"z":-15},{"u":0.49,"v":0.72,"z":-16},{"u":0.56,"v":0.72,"z":-17},{"u":0.63,"v":0.72,"z":-19},{"u":0.69,"v":0.72,"z":-17},
{"u":-0.56,"v":0.64,"z":-28},{"u":-0.49,"v":0.64,"z":-28},{"u":-0.42,"v":0.64,"z":-28},{"u":-0.35,"v":0.64,"z":-28},{"u":-0.28,"v":0.64,"z":-28},{"u":-0.21,"v":0.64,"z":-27},{"u":-0.14,"v":0.64,"z":-26},{"u":-0.07,"v":0.64,"z":-24},{"u":0.07,"v":0.64,"z":-24},{"u":0.14,"v":0.64,"z":-26},{"u":0.21,"v":0.64,"z":-27},{"u":0.28,"v":0.64,"z":-28},{"u":0.35,"v":0.64,"z":-28},{"u":0.42,"v":0.64,"z":-28},{"u":0.49,"v":0.64,"z":-28},{"u":0.56,"v":0.64,"z":-28},
{"u":-0.56,"v":0.57,"z":-31},{"u":-0.49,"v":0.57,"z":-31},{"u":-0.42,"v":0.57,"z":-31},{"u":-0.35,"v":0.57,"z":-31},{"u":-0.28,"v":0.57,"z":-31},{"u":-0.21,"v":0.57,"z":-31},{"u":-0.14,"v":0.57,"z":-30},{"u":-0.07,"v":0.57,"z":-28},{"u":0.07,"v":0.57,"z":-28},{"u":0.14,"v":0.57,"z":-30},{"u":0.21,"v":0.57,"z":-31},{"u":0.28,"v":0.57,"z":-31},{"u":0.35,"v":0.57,"z":-31},{"u":0.42,"v":0.57,"z":-31},{"u":0.49,"v":0.57,"z":-31},{"u":0.56,"v":0.57,"z":-31},
{"u":-0.56,"v":0.5,"z":-33},{"u":-0.49,"v":0.5,"z":-33},{"u":-0.42,"v":0.5,"z":-33},{"u":-0.35,"v":0.5,"z":-33},{"u":-0.28,"v":0.5,"z":-33},{"u":-0.21,"v":0.5,"z":-33},{"u":-0.14,"v":0.5,"z":-32},{"u":-0.07,"v":0.5,"z":-30},{"u":0.07,"v":0.5,"z":-30},{"u":0.14,"v":0.5,"z":-32},{"u":0.21,"v":0.5,"z":-33},{"u":0.28,"v":0.5,"z":-33},{"u":0.35,"v":0.5,"z":-33},{"u":0.42,"v":0.5,"z":-33},{"u":0.49,"v":0.5,"z":-33},{"u":0.56,"v":0.5,"z":-33},
{"u":-0.67,"v":0.6,"z":-24},{"u":0.67,"v":0.6,"z":-24},{"u":-0.67,"v":0.5,"z":-28},{"u":0.67,"v":0.5,"z":-28},{"u":-0.67,"v":0.4,"z":-29},{"u":0.67,"v":0.4,"z":-29},{"u":-0.67,"v":0.3,"z":-29},{"u":0.67,"v":0.3,"z":-29},{"u":-0.67,"v":0.2,"z":-30},{"u":0.67,"v":0.2,"z":-30},{"u":-0.67,"v":0.1,"z":-30},{"u":0.67,"v":0.1,"z":-30},{"u":-0.67,"v":0,"z":-30},{"u":0.67,"v":0,"z":-30},{"u":-0.67,"v":-0.1,"z":-30},{"u":0.67,"v":-0.1,"z":-30},{"u":-0.67,"v":-0.2,"z":-30},{"u":0.67,"v":-0.2,"z":-30},{"u":-0.67,"v":-0.3,"z":-30},{"u":0.67,"v":-0.3,"z":-30},{"u":-0.67,"v":-0.4,"z":-30},{"u":0.67,"v":-0.4,"z":-30},{"u":-0.67,"v":-0.5,"z":-29},{"u":0.67,"v":-0.5,"z":-29},{"u":-0.67,"v":-0.6,"z":-28},{"u":0.67,"v":-0.6,"z":-28},{"u":-0.66,"v":-0.69,"z":-24},{"u":0.66,"v":-0.69,"z":-24},
{"u":0,"v":0.72,"z":13}
],
"f":[
{"u":-0.25,"v":0.95,"z":18},{"u":-0.15,"v":0.95,"z":4},{"u":-0.05,"v":0.95,"z":-2},{"u":0.05,"v":0.95,"z":-3},{"u":0.15,"v":0.95,"z":0},{"u":0.25,"v":0.95,"z":2},
{"u":-0.45,"v":0.85,"z":-5},{"u":-0.35,"v":0.85,"z":1},{"u":-0.25,"v":0.85,"z":16},{"u":-0.15,"v":0.85,"z":-3},{"u":-0.05,"v":0.85,"z":-5},{"u":0.05,"v":0.85,"z":-5},{"u":0.15,"v":0.85,"z":-3},{"u":0.25,"v":0.85,"z":12},{"u":0.35,"v":0.85,"z":-3},{"u":0.45,"v":0.85,"z":-6},
{"u":-0.65,"v":0.75,"z":2},{"u":-0.55,"v":0.75,"z":-4},{"u":-0.45,"v":0.75,"z":17},{"u":-0.35,"v":0.75,"z":4},{"u":-0.25,"v":0.75,"z":14},{"u":-0.15,"v":0.75,"z":-5},{"u":-0.05,"v":0.75,"z":-7},{"u":0.05,"v":0.75,"z":-8},{"u":0.15,"v":0.75,"z":-5},{"u":0.25,"v":0.75,"z":13},{"u":0.35,"v":0.75,"z":-8},{"u":0.45,"v":0.75,"z":-12},{"u":0.55,"v":0.75,"z":-6},{"u":0.65,"v":0.75,"z":-5},
{"u":-0.75,"v":0.65,"z":3},{"u":-0.65,"v":0.65,"z":-2},{"u":-0.55,"v":0.65,"z":5},{"u":-0.45,"v":0.65,"z":18},{"u":-0.35,"v":0.65,"z":3},{"u":-0.25,"v":0.65,"z":13},{"u":-0.15,"v":0.65,"z":-4},{"u":-0.05,"v":0.65,"z":-12},{"u":0.05,"v":0.65,"z":-12},{"u":0.15,"v":0.65,"z":-5},{"u":0.25,"v":0.65,"z":13},{"u":0.35,"v":0.65,"z":-6},{"u":0.45,"v":0.65,"z":-11},{"u":0.55,"v":0.65,"z":-5},{"u":0.65,"v":0.65,"z":-3},{"u":0.75,"v":0.65,"z":1},
{"u":-0.75,"v":0.55,"z":5},{"u":-0.65,"v":0.55,"z":0},{"u":-0.55,"v":0.55,"z":8},{"u":-0.45,"v":0.55,"z":20},{"u":-0.35,"v":0.55,"z":10},{"u":-0.25,"v":0.55,"z":14},{"u":-0.15,"v":0.55,"z":2},{"u":-0.05,"v":0.55,"z":-14},{"u":0.05,"v":0.55,"z":-15},{"u":0.15,"v":0.55,"z":-2},{"u":0.25,"v":0.55,"z":14},{"u":0.35,"v":0.55,"z":3},{"u":0.45,"v":0.55,"z":2},{"u":0.55,"v":0.55,"z":6},{"u":0.65,"v":0.55,"z":3},{"u":0.75,"v":0.55,"z":3},
{"u":-0.85,"v":0.45,"z":10},{"u":-0.75,"v":0.45,"z":20},{"u":-0.65,"v":0.45,"z":16},{"u":-0.55,"v":0.45,"z":15},{"u":-0.45,"v":0.45,"z":20},{"u":-0.35,"v":0.45,"z":17},{"u":-0.25,"v":0.45,"z":18},{"u":-0.15,"v":0.45,"z":16},{"u":-0.05,"v":0.45,"z":12},{"u":0.05,"v":0.45,"z":12},{"u":0.15,"v":0.45,"z":15},{"u":0.25,"v":0.45,"z":18},{"u":0.35,"v":0.45,"z":15},{"u":0.45,"v":0.45,"z":16},{"u":0.55,"v":0.45,"z":20},{"u":0.65,"v":0.45,"z":12},{"u":0.75,"v":0.45,"z":20},{"u":0.85,"v":0.45,"z":8},
{"u":-0.85,"v":0.35,"z":12},{"u":-0.75,"v":0.35,"z":20},{"u":-0.65,"v":0.35,"z":8},{"u":-0.55,"v":0.35,"z":5},{"u":-0.45,"v":0.35,"z":20},{"u":-0.35,"v":0.35,"z":12},{"u":-0.25,"v":0.35,"z":12},{"u":-0.15,"v":0.35,"z":3},{"u":-0.05,"v":0.35,"z":-8},{"u":0.05,"v":0.35,"z":-9},{"u":0.15,"v":0.35,"z":2},{"u":0.25,"v":0.35,"z":15},{"u":0.35,"v":0.35,"z":8},{"u":0.45,"v":0.35,"z":10},{"u":0.55,"v":0.35,"z":20},{"u":0.65,"v":0.35,"z":6},{"u":0.75,"v":0.35,"z":20},{"u":0.85,"v":0.35,"z":12},
{"u":-0.95,"v":0.25,"z":8},{"u":-0.85,"v":0.25,"z":8},{"u":-0.75,"v":0.25,"z":20},{"u":-0.65,"v":0.25,"z":4},{"u":-0.55,"v":0.25,"z":5},{"u":-0.45,"v":0.25,"z":20},{"u":-0.35,"v":0.25,"z":12},{"u":-0.25,"v":0.25,"z":13},{"u":-0.15,"v":0.25,"z":3},{"u":-0.05,"v":0.25,"z":-3},{"u":0.05,"v":0.25,"z":-5},{"u":0.15,"v":0.25,"z":3},{"u":0.25,"v":0.25,"z":16},{"u":0.35,"v":0.25,"z":10},{"u":0.45,"v":0.25,"z":10},{"u":0.55,"v":0.25,"z":20},{"u":0.65,"v":0.25,"z":5},{"u":0.75,"v":0.25,"z":20},{"u":0.85,"v":0.25,"z":8},{"u":0.95,"v":0.25,"z":5},
{"u":-0.95,"v":0.15,"z":17},{"u":-0.85,"v":0.15,"z":17},{"u":-0.75,"v":0.15,"z":20},{"u":-0.65,"v":0.15,"z":14},{"u":-0.55,"v":0.15,"z":14},{"u":-0.45,"v":0.15,"z":20},{"u":-0.35,"v":0.15,"z":18},{"u":-0.25,"v":0.15,"z":20},{"u":-0.15,"v":0.15,"z":14},{"u":-0.05,"v":0.15,"z":4},{"u":0.05,"v":0.15,"z":2},{"u":0.15,"v":0.15,"z":14},{"u":0.25,"v":0.15,"z":20},{"u":0.35,"v":0.15,"z":17},{"u":0.45,"v":0.15,"z":18},{"u":0.55,"v":0.15,"z":20},{"u":0.65,"v":0.15,"z":14},{"u":0.75,"v":0.15,"z":20},{"u":0.85,"v":0.15,"z":16},{"u":0.95,"v":0.15,"z":12},
{"u":-0.95,"v":0.05,"z":12},{"u":-0.85,"v":0.05,"z":12},{"u":-0.75,"v":0.05,"z":20},{"u":-0.65,"v":0.05,"z":10},{"u":-0.55,"v":0.05,"z":10},{"u":-0.45,"v":0.05,"z":20},{"u":-0.35,"v":0.05,"z":14},{"u":-0.25,"v":0.05,"z":16},{"u":-0.15,"v":0.05,"z":10},{"u":-0.05,"v":0.05,"z":1},{"u":0.05,"v":0.05,"z":-2},{"u":0.15,"v":0.05,"z":8},{"u":0.25,"v":0.05,"z":16},{"u":0.35,"v":0.05,"z":14},{"u":0.45,"v":0.05,"z":14},{"u":0.55,"v":0.05,"z":20},{"u":0.65,"v":0.05,"z":10},{"u":0.75,"v":0.05,"z":20},{"u":0.85,"v":0.05,"z":12},{"u":0.95,"v":0.05,"z":10},
{"u":-0.95,"v":-0.05,"z":20},{"u":-0.85,"v":-0.05,"z":20},{"u":-0.75,"v":-0.05,"z":20},{"u":-0.65,"v":-0.05,"z":20},{"u":-0.55,"v":-0.05,"z":20},{"u":-0.45,"v":-0.05,"z":20},{"u":-0.35,"v":-0.05,"z":20},{"u":-0.25,"v":-0.05,"z":20},{"u":-0.15,"v":-0.05,"z":20},{"u":-0.05,"v":-0.05,"z":14},{"u":0.05,"v":-0.05,"z":14},{"u":0.15,"v":-0.05,"z":20},{"u":0.25,"v":-0.05,"z":20},{"u":0.35,"v":-0.05,"z":20},{"u":0.45,"v":-0.05,"z":20},{"u":0.55,"v":-0.05,"z":20},{"u":0.65,"v":-0.05,"z":20},{"u":0.75,"v":-0.05,"z":20},{"u":0.85,"v":-0.05,"z":18},{"u":0.95,"v":-0.05,"z":15},
{"u":-0.95,"v":-0.15,"z":10},{"u":-0.85,"v":-0.15,"z":12},{"u":-0.75,"v":-0.15,"z":20},{"u":-0.65,"v":-0.15,"z":8},{"u":-0.55,"v":-0.15,"z":10},{"u":-0.45,"v":-0.15,"z":20},{"u":-0.35,"v":-0.15,"z":13},{"u":-0.25,"v":-0.15,"z":14},{"u":-0.15,"v":-0.15,"z":10},{"u":-0.05,"v":-0.15,"z":3},{"u":0.05,"v":-0.15,"z":3},{"u":0.15,"v":-0.15,"z":12},{"u":0.25,"v":-0.15,"z":16},{"u":0.35,"v":-0.15,"z":14},{"u":0.45,"v":-0.15,"z":14},{"u":0.55,"v":-0.15,"z":20},{"u":0.65,"v":-0.15,"z":8},{"u":0.75,"v":-0.15,"z":18},{"u":0.85,"v":-0.15,"z":12},{"u":0.95,"v":-0.15,"z":10},
{"u":-0.95,"v":-0.25,"z":20},{"u":-0.85,"v":-0.25,"z":20},{"u":-0.75,"v":-0.25,"z":20},{"u":-0.65,"v":-0.25,"z":18},{"u":-0.55,"v":-0.25,"z":20},{"u":-0.45,"v":-0.25,"z":20},{"u":-0.35,"v":-0.25,"z":20},{"u":-0.25,"v":-0.25,"z":20},{"u":-0.15,"v":-0.25,"z":17},{"u":-0.05,"v":-0.25,"z":6},{"u":0.05,"v":-0.25,"z":6},{"u":0.15,"v":-0.25,"z":18},{"u":0.25,"v":-0.25,"z":20},{"u":0.35,"v":-0.25,"z":20},{"u":0.45,"v":-0.25,"z":20},{"u":0.55,"v":-0.25,"z":20},{"u":0.65,"v":-0.25,"z":18},{"u":0.75,"v":-0.25,"z":20},{"u":0.85,"v":-0.25,"z":20},{"u":0.95,"v":-0.25,"z":20},
{"u":-0.85,"v":-0.35,"z":15},{"u":-0.75,"v":-0.35,"z":20},{"u":-0.65,"v":-0.35,"z":5},{"u":-0.55,"v":-0.35,"z":7},{"u":-0.45,"v":-0.35,"z":20},{"u":-0.35,"v":-0.35,"z":12},{"u":-0.25,"v":-0.35,"z":14},{"u":-0.15,"v":-0.35,"z":5},{"u":-0.05,"v":-0.35,"z":-3},{"u":0.05,"v":-0.35,"z":-3},{"u":0.15,"v":-0.35,"z":6},{"u":0.25,"v":-0.35,"z":14},{"u":0.35,"v":-0.35,"z":12},{"u":0.45,"v":-0.35,"z":14},{"u":0.55,"v":-0.35,"z":20},{"u":0.65,"v":-0.35,"z":8},{"u":0.75,"v":-0.35,"z":18},{"u":0.85,"v":-0.35,"z":10},
{"u":-0.85,"v":-0.45,"z":14},{"u":-0.75,"v":-0.45,"z":20},{"u":-0.65,"v":-0.45,"z":12},{"u":-0.55,"v":-0.45,"z":14},{"u":-0.45,"v":-0.45,"z":20},{"u":-0.35,"v":-0.45,"z":20},{"u":-0.25,"v":-0.45,"z":20},{"u":-0.15,"v":-0.45,"z":16},{"u":-0.05,"v":-0.45,"z":12},{"u":0.05,"v":-0.45,"z":13},{"u":0.15,"v":-0.45,"z":18},{"u":0.25,"v":-0.45,"z":20},{"u":0.35,"v":-0.45,"z":20},{"u":0.45,"v":-0.45,"z":20},{"u":0.55,"v":-0.45,"z":20},{"u":0.65,"v":-0.45,"z":14},{"u":0.75,"v":-0.45,"z":18},{"u":0.85,"v":-0.45,"z":8},
{"u":-0.75,"v":-0.55,"z":17},{"u":-0.65,"v":-0.55,"z":8},{"u":-0.55,"v":-0.55,"z":16},{"u":-0.45,"v":-0.55,"z":20},{"u":-0.35,"v":-0.55,"z":14},{"u":-0.25,"v":-0.55,"z":12},{"u":-0.15,"v":-0.55,"z":2},{"u":-0.05,"v":-0.55,"z":-2},{"u":0.05,"v":-0.55,"z":-2},{"u":0.15,"v":-0.55,"z":3},{"u":0.25,"v":-0.55,"z":12},{"u":0.35,"v":-0.55,"z":12},{"u":0.45,"v":-0.55,"z":14},{"u":0.55,"v":-0.55,"z":18},{"u":0.65,"v":-0.55,"z":6},{"u":0.75,"v":-0.55,"z":12},
{"u":-0.75,"v":-0.65,"z":18},{"u":-0.65,"v":-0.65,"z":4},{"u":-0.55,"v":-0.65,"z":14},{"u":-0.45,"v":-0.65,"z":20},{"u":-0.35,"v":-0.65,"z":10},{"u":-0.25,"v":-0.65,"z":13},{"u":-0.15,"v":-0.65,"z":1},{"u":-0.05,"v":-0.65,"z":-3},{"u":0.05,"v":-0.65,"z":-3},{"u":0.15,"v":-0.65,"z":2},{"u":0.25,"v":-0.65,"z":13},{"u":0.35,"v":-0.65,"z":8},{"u":0.45,"v":-0.65,"z":11},{"u":0.55,"v":-0.65,"z":17},{"u":0.65,"v":-0.65,"z":4},
{"u":-0.65,"v":-0.75,"z":6},{"u":-0.55,"v":-0.75,"z":16},{"u":-0.45,"v":-0.75,"z":20},{"u":-0.35,"v":-0.75,"z":20},{"u":-0.25,"v":-0.75,"z":20},{"u":-0.15,"v":-0.75,"z":14},{"u":-0.05,"v":-0.75,"z":6},{"u":0.05,"v":-0.75,"z":6},{"u":0.15,"v":-0.75,"z":14},{"u":0.25,"v":-0.75,"z":20},{"u":0.35,"v":-0.75,"z":20},{"u":0.45,"v":-0.75,"z":20},{"u":0.55,"v":-0.75,"z":15},{"u":0.65,"v":-0.75,"z":4},
{"u":-0.45,"v":-0.85,"z":14},{"u":-0.35,"v":-0.85,"z":10},{"u":-0.25,"v":-0.85,"z":14},{"u":-0.15,"v":-0.85,"z":2},{"u":-0.05,"v":-0.85,"z":-3},{"u":0.05,"v":-0.85,"z":-3},{"u":0.15,"v":-0.85,"z":3},{"u":0.25,"v":-0.85,"z":14},{"u":0.35,"v":-0.85,"z":8},{"u":0.45,"v":-0.85,"z":10},
{"u":-0.25,"v":-0.95,"z":14},{"u":-0.15,"v":-0.95,"z":3},{"u":-0.05,"v":-0.95,"z":-6},{"u":0.05,"v":-0.95,"z":-5},{"u":0.15,"v":-0.95,"z":4},{"u":0.25,"v":-0.95,"z":12}
],
"frame":[{"u":-1,"u2":1,"v":-1,"v2":1}],
"centre":[{"u":0,"v":0}]
},
"concat":[
{"width":233,"height":204,"encoding":{"x":{"field":"u","type":"quantitative","scale":{"domain":[-1,1],"range":[22,186],"nice":false,"zero":false},"axis":{"offset":-35,"title":"u=sin(θ)cos(φ)","values":[-1,-0.8,-0.6,-0.4,-0.2,0,0.2,0.4,0.6,0.8,1]}},"y":{"field":"v","type":"quantitative","scale":{"domain":[-1,1],"range":[169,5],"nice":false,"zero":false},"axis":{"offset":-22,"title":"v=sin(θ)sin(φ)","values":[-1,-0.8,-0.6,-0.4,-0.2,0,0.2,0.4,0.6,0.8,1]}}},
"resolve":{"scale":{"color":"independent","size":"independent"}},
"layer":[
{"data":{"name":"frame"},"mark":{"type":"rect","fill":"white","stroke":"#aaa"},"encoding":{"x2":{"field":"u2"},"y2":{"field":"v2"}}},
{"data":{"name":"centre"},"mark":{"type":"point","filled":true,"size":26896,"color":"#00008f"}},
{"data":{"name":"a"},"mark":{"type":"point","shape":"square","filled":true},"encoding":{"size":{"field":"z","type":"quantitative","legend":null,"scale":{"domain":[-35,-28,-24,-10,3],"range":[16,36,62,190,420],"clamp":true}},"color":{"field":"z","type":"quantitative","legend":null,"scale":{"clamp":true,"domain":[-34,-27.75,-15.25,-2.75,9.75,16],"range":["#00008f","#0000ff","#00ffff","#ffff00","#ff0000","#800000"]}}}},
{"data":{"name":"a"},"mark":{"type":"point","shape":"circle","filled":true},"encoding":{"size":{"field":"z","type":"quantitative","legend":null,"scale":{"domain":[-35,-28,-24,-10,3],"range":[4,12,34,85,200],"clamp":true}},"color":{"field":"z","type":"quantitative","scale":{"clamp":true,"domain":[-40,-33.75,-21.25,-8.75,3.75,10],"range":["#00008f","#0000ff","#00ffff","#ffff00","#ff0000","#800000"]},"legend":{"orient":"none","legendX":193,"legendY":5,"gradientLength":165,"gradientThickness":11,"title":"dBm²","values":[-40,-35,-30,-25,-20,-15,-10,-5,0,5]}}}},
{"data":{"name":"a"},"transform":[{"filter":"datum.n"}],"mark":{"type":"point","shape":"circle","size":13,"stroke":"#111","strokeWidth":1.3,"filled":false}},
{"data":{"values":[{"u":0.1,"v":-1.33,"t":"(a)"}]},"mark":{"type":"text","font":"Liberation Serif","fontSize":14,"color":"#333"},"encoding":{"text":{"field":"t"}}},
{"data":{"values":[{"u":0.073,"u2":0.256,"v":0.85,"v2":0.74}]},"mark":{"type":"rect","fill":"#f04545"},"encoding":{"x2":{"field":"u2"},"y2":{"field":"v2"}}},
{"data":{"values":[{"u":0.165,"v":0.795,"t":"1.97"}]},"mark":{"type":"text","font":"Liberation Serif","fontSize":8,"color":"#222"},"encoding":{"text":{"field":"t"}}},
{"data":{"values":[{"u":0.02,"v":0.72,"u2":0.075,"v2":0.77}]},"mark":{"type":"rule","color":"#000","strokeWidth":1},"encoding":{"x2":{"field":"u2"},"y2":{"field":"v2"}}}
]},
{"width":233,"height":204,"encoding":{"x":{"field":"u","type":"quantitative","scale":{"domain":[-1,1],"range":[31,191],"nice":false,"zero":false},"axis":{"offset":-42,"title":"u=sin(θ)cos(φ)","values":[-1,-0.8,-0.6,-0.4,-0.2,0,0.2,0.4,0.6,0.8,1]}},"y":{"field":"v","type":"quantitative","scale":{"domain":[-1,1],"range":[162,3],"nice":false,"zero":false},"axis":{"offset":-31,"title":"v=sin(θ)sin(φ)","values":[-1,-0.8,-0.6,-0.4,-0.2,0,0.2,0.4,0.6,0.8,1]}}},
"resolve":{"scale":{"color":"independent","size":"independent"}},
"layer":[
{"data":{"name":"frame"},"mark":{"type":"rect","fill":"white","stroke":"#aaa"},"encoding":{"x2":{"field":"u2"},"y2":{"field":"v2"}}},
{"data":{"name":"centre"},"mark":{"type":"point","filled":true,"size":25600,"color":"#00008f"}},
{"data":{"name":"b"},"mark":{"type":"point","shape":"square","filled":true},"encoding":{"size":{"field":"z","type":"quantitative","legend":null,"scale":{"domain":[-35,-28,-22,-8,9],"range":[16,34,58,70,620],"clamp":true}},"color":{"field":"z","type":"quantitative","legend":null,"scale":{"clamp":true,"domain":[-34,-27.75,-15.25,-2.75,9.75,16],"range":["#00008f","#0000ff","#00ffff","#ffff00","#ff0000","#800000"]}}}},
{"data":{"name":"b"},"mark":{"type":"point","shape":"circle","filled":true},"encoding":{"size":{"field":"z","type":"quantitative","legend":null,"scale":{"domain":[-35,-28,-22,-8,9],"range":[4,12,30,42,330],"clamp":true}},"color":{"field":"z","type":"quantitative","scale":{"clamp":true,"domain":[-40,-33.75,-21.25,-8.75,3.75,10],"range":["#00008f","#0000ff","#00ffff","#ffff00","#ff0000","#800000"]},"legend":{"orient":"none","legendX":199,"legendY":3,"gradientLength":160,"gradientThickness":9,"title":"dBm²","values":[-40,-35,-30,-25,-20,-15,-10,-5,0,5]}}}},
{"data":{"values":[{"u":0.1,"v":-1.415,"t":"(b)"}]},"mark":{"type":"text","font":"Liberation Serif","fontSize":14,"color":"#333"},"encoding":{"text":{"field":"t"}}},
{"data":{"values":[{"u":0.096,"u2":0.29,"v":0.878,"v2":0.765}]},"mark":{"type":"rect","fill":"#f04545"},"encoding":{"x2":{"field":"u2"},"y2":{"field":"v2"}}},
{"data":{"values":[{"u":0.193,"v":0.82,"t":"9.72"}]},"mark":{"type":"text","font":"Liberation Serif","fontSize":8,"color":"#222"},"encoding":{"text":{"field":"t"}}},
{"data":{"values":[{"u":0.03,"v":0.74,"u2":0.09,"v2":0.79}]},"mark":{"type":"rule","color":"#000","strokeWidth":1},"encoding":{"x2":{"field":"u2"},"y2":{"field":"v2"}}}
]},
{"width":234,"height":204,"encoding":{"x":{"field":"u","type":"quantitative","scale":{"domain":[-1,1],"range":[36,193],"nice":false,"zero":false},"axis":{"offset":-41,"title":"u=sin(θ)cos(φ)","values":[-1,-0.8,-0.6,-0.4,-0.2,0,0.2,0.4,0.6,0.8,1]}},"y":{"field":"v","type":"quantitative","scale":{"domain":[-1,1],"range":[163,6],"nice":false,"zero":false},"axis":{"offset":-36,"title":"v=sin(θ)sin(φ)","values":[-1,-0.8,-0.6,-0.4,-0.2,0,0.2,0.4,0.6,0.8,1]}}},
"layer":[
{"data":{"name":"frame"},"mark":{"type":"rect","fill":"white","stroke":"#aaa"},"encoding":{"x2":{"field":"u2"},"y2":{"field":"v2"}}},
{"data":{"name":"centre"},"mark":{"type":"point","filled":true,"size":24649,"color":"#35e0d0"}},
{"data":{"name":"c"},"mark":{"type":"point","shape":"square","filled":true,"size":72},"encoding":{"color":{"field":"z","type":"quantitative","scale":{"clamp":true,"domain":[-20,-15,-5,5,15,20],"range":["#00008f","#0000ff","#00ffff","#ffff00","#ff0000","#800000"]},"legend":{"orient":"none","legendX":201,"legendY":6,"gradientLength":158,"gradientThickness":8,"title":"dB","values":[-20,-15,-10,-5,0,5,10,15,20]}}}},
{"data":{"name":"c"},"transform":[{"filter":"datum.z>=20"}],"mark":{"type":"point","shape":"circle","filled":true,"size":260,"color":"#800000"}},
{"data":{"values":[{"u":0.12,"v":-1.41,"t":"(c)"}]},"mark":{"type":"text","font":"Liberation Serif","fontSize":14,"color":"#333"},"encoding":{"text":{"field":"t"}}}
]},
{"width":233,"height":204,"encoding":{"x":{"field":"u","type":"quantitative","scale":{"domain":[-1,1],"range":[25,186],"nice":false,"zero":false},"axis":{"offset":-39,"title":"u=sin(θ)cos(φ)","values":[-1,-0.8,-0.6,-0.4,-0.2,0,0.2,0.4,0.6,0.8,1]}},"y":{"field":"v","type":"quantitative","scale":{"domain":[-1,1],"range":[165,5],"nice":false,"zero":false},"axis":{"offset":-25,"title":"v=sin(θ)sin(φ)","values":[-1,-0.8,-0.6,-0.4,-0.2,0,0.2,0.4,0.6,0.8,1]}}},
"resolve":{"scale":{"color":"independent","size":"independent"}},
"layer":[
{"data":{"name":"frame"},"mark":{"type":"rect","fill":"white","stroke":"#aaa"},"encoding":{"x2":{"field":"u2"},"y2":{"field":"v2"}}},
{"data":{"name":"centre"},"mark":{"type":"point","filled":true,"size":25921,"color":"#00008f"}},
{"data":{"name":"d"},"mark":{"type":"point","shape":"square","filled":true},"encoding":{"size":{"field":"z","type":"quantitative","legend":null,"scale":{"domain":[-35,-28,-24,-10,3],"range":[12,22,36,130,260],"clamp":true}},"color":{"field":"z","type":"quantitative","legend":null,"scale":{"clamp":true,"domain":[-34,-27.4,-14.1,-0.9,12.4,19],"range":["#00008f","#0000ff","#00ffff","#ffff00","#ff0000","#800000"]}}}},
{"data":{"name":"d"},"mark":{"type":"point","shape":"circle","filled":true},"encoding":{"size":{"field":"z","type":"quantitative","legend":null,"scale":{"domain":[-35,-28,-24,-10,3],"range":[3,8,20,50,110],"clamp":true}},"color":{"field":"z","type":"quantitative","scale":{"clamp":true,"domain":[-40,-33.4,-20.1,-6.9,6.4,13],"range":["#00008f","#0000ff","#00ffff","#ffff00","#ff0000","#800000"]},"legend":{"orient":"none","legendX":193,"legendY":5,"gradientLength":161,"gradientThickness":11,"title":"dBm²","values":[-40,-35,-30,-25,-20,-15,-10,-5,0,5,10]}}}},
{"data":{"name":"d"},"transform":[{"filter":"datum.n"}],"mark":{"type":"point","shape":"circle","size":13,"stroke":"#111","strokeWidth":1.3,"filled":false}},
{"data":{"values":[{"u":0.08,"v":-1.39,"t":"(d)"}]},"mark":{"type":"text","font":"Liberation Serif","fontSize":14,"color":"#333"},"encoding":{"text":{"field":"t"}}},
{"data":{"values":[{"u":0.084,"u2":0.22,"v":0.86,"v2":0.76}]},"mark":{"type":"rect","fill":"#f04545"},"encoding":{"x2":{"field":"u2"},"y2":{"field":"v2"}}},
{"data":{"values":[{"u":0.152,"v":0.81,"t":"3.1"}]},"mark":{"type":"text","font":"Liberation Serif","fontSize":8,"color":"#222"},"encoding":{"text":{"field":"t"}}},
{"data":{"values":[{"u":0.01,"v":0.71,"u2":0.07,"v2":0.79}]},"mark":{"type":"rule","color":"#000","strokeWidth":1},"encoding":{"x2":{"field":"u2"},"y2":{"field":"v2"}}}
]},
{"width":233,"height":204,"encoding":{"x":{"field":"u","type":"quantitative","scale":{"domain":[-1,1],"range":[30,191],"nice":false,"zero":false},"axis":{"offset":-42,"title":"u=sin(θ)cos(φ)","values":[-1,-0.8,-0.6,-0.4,-0.2,0,0.2,0.4,0.6,0.8,1]}},"y":{"field":"v","type":"quantitative","scale":{"domain":[-1,1],"range":[162,3],"nice":false,"zero":false},"axis":{"offset":-30,"title":"v=sin(θ)sin(φ)","values":[-1,-0.8,-0.6,-0.4,-0.2,0,0.2,0.4,0.6,0.8,1]}}},
"resolve":{"scale":{"color":"independent","size":"independent"}},
"layer":[
{"data":{"name":"frame"},"mark":{"type":"rect","fill":"white","stroke":"#aaa"},"encoding":{"x2":{"field":"u2"},"y2":{"field":"v2"}}},
{"data":{"name":"centre"},"mark":{"type":"point","filled":true,"size":25921,"color":"#00008f"}},
{"data":{"name":"e"},"mark":{"type":"point","shape":"square","filled":true},"encoding":{"size":{"field":"z","type":"quantitative","legend":null,"scale":{"domain":[-35,-28,-22,-4,13],"range":[9,18,30,36,380],"clamp":true}},"color":{"field":"z","type":"quantitative","legend":null,"scale":{"clamp":true,"domain":[-34,-27.4,-14.1,-0.9,12.4,19],"range":["#00008f","#0000ff","#00ffff","#ffff00","#ff0000","#800000"]}}}},
{"data":{"name":"e"},"mark":{"type":"point","shape":"circle","filled":true},"encoding":{"size":{"field":"z","type":"quantitative","legend":null,"scale":{"domain":[-35,-28,-22,-4,13],"range":[3,8,18,20,200],"clamp":true}},"color":{"field":"z","type":"quantitative","scale":{"clamp":true,"domain":[-40,-33.4,-20.1,-6.9,6.4,13],"range":["#00008f","#0000ff","#00ffff","#ffff00","#ff0000","#800000"]},"legend":{"orient":"none","legendX":198,"legendY":3,"gradientLength":160,"gradientThickness":10,"title":"dBm²","values":[-40,-35,-30,-25,-20,-15,-10,-5,0,5,10]}}}},
{"data":{"values":[{"u":0.1,"v":-1.425,"t":"(e)"}]},"mark":{"type":"text","font":"Liberation Serif","fontSize":14,"color":"#333"},"encoding":{"text":{"field":"t"}}},
{"data":{"values":[{"u":0.08,"u2":0.27,"v":0.854,"v2":0.754}]},"mark":{"type":"rect","fill":"#f04545"},"encoding":{"x2":{"field":"u2"},"y2":{"field":"v2"}}},
{"data":{"values":[{"u":0.175,"v":0.805,"t":"13.1"}]},"mark":{"type":"text","font":"Liberation Serif","fontSize":8,"color":"#222"},"encoding":{"text":{"field":"t"}}},
{"data":{"values":[{"u":0.02,"v":0.73,"u2":0.08,"v2":0.78}]},"mark":{"type":"rule","color":"#000","strokeWidth":1},"encoding":{"x2":{"field":"u2"},"y2":{"field":"v2"}}}
]},
{"width":234,"height":204,"encoding":{"x":{"field":"u","type":"quantitative","scale":{"domain":[-1,1],"range":[37,197],"nice":false,"zero":false},"axis":{"offset":-40,"title":"u=sin(θ)cos(φ)","values":[-1,-0.8,-0.6,-0.4,-0.2,0,0.2,0.4,0.6,0.8,1]}},"y":{"field":"v","type":"quantitative","scale":{"domain":[-1,1],"range":[164,5],"nice":false,"zero":false},"axis":{"offset":-37,"title":"v=sin(θ)sin(φ)","values":[-1,-0.8,-0.6,-0.4,-0.2,0,0.2,0.4,0.6,0.8,1]}}},
"layer":[
{"data":{"name":"frame"},"mark":{"type":"rect","fill":"white","stroke":"#aaa"},"encoding":{"x2":{"field":"u2"},"y2":{"field":"v2"}}},
{"data":{"name":"centre"},"mark":{"type":"point","filled":true,"size":25600,"color":"#c8f050"}},
{"data":{"name":"f"},"mark":{"type":"point","shape":"square","filled":true,"size":72},"encoding":{"color":{"field":"z","type":"quantitative","scale":{"clamp":true,"domain":[-20,-15,-5,5,15,20],"range":["#00008f","#0000ff","#00ffff","#ffff00","#ff0000","#800000"]},"legend":{"orient":"none","legendX":205,"legendY":5,"gradientLength":160,"gradientThickness":9,"title":"dB","values":[-20,-15,-10,-5,0,5,10,15,20]}}}},
{"data":{"values":[{"u":0.09,"v":-1.4,"t":"(f)"}]},"mark":{"type":"text","font":"Liberation Serif","fontSize":14,"color":"#333"},"encoding":{"text":{"field":"t"}}}
]}
]}
